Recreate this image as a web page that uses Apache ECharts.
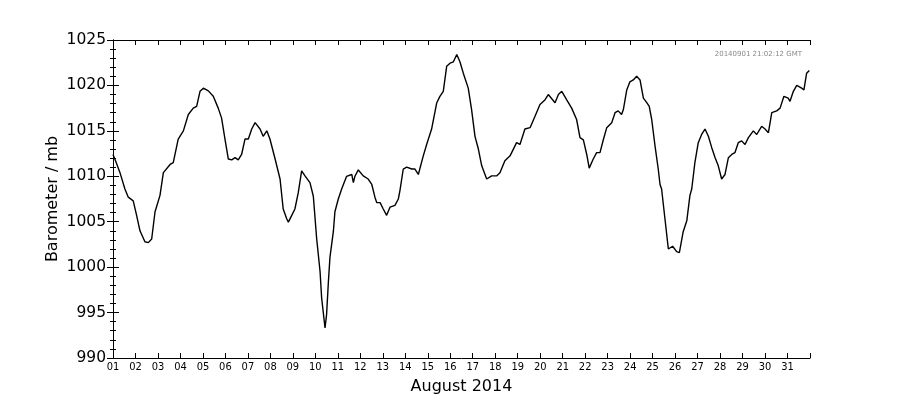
<!DOCTYPE html>
<html>
<head>
<meta charset="utf-8">
<title>Barometer August 2014</title>
<script src="https://cdn.jsdelivr.net/npm/echarts@6/dist/echarts.min.js"></script>
<style>
  html, body { margin: 0; padding: 0; background: #fff; }
  #chart { width: 900px; height: 400px; }
</style>
</head>
<body>
<div id="chart"></div>
<script>
// time in days since 1 Aug 2014 00:00
const days = [
  0.00, 0.13, 0.31, 0.53, 0.68, 0.90, 1.05, 1.20, 1.42, 1.57, 1.72, 1.87,
  2.09, 2.24, 2.54, 2.68, 2.90, 3.13, 3.35, 3.57, 3.72, 3.87, 4.02, 4.24,
  4.46, 4.68, 4.83, 4.98, 5.13, 5.28, 5.43, 5.57, 5.72, 5.87, 6.02, 6.17,
  6.32, 6.54, 6.68, 6.84, 6.98, 7.21, 7.43, 7.57, 7.73, 7.80, 7.95, 8.09,
  8.24, 8.39, 8.54, 8.76, 8.91, 9.06, 9.21, 9.28, 9.38, 9.43, 9.50, 9.58,
  9.65, 9.80, 9.87, 10.02, 10.17, 10.39, 10.62, 10.69, 10.76, 10.91, 11.13, 11.35,
  11.51, 11.65, 11.73, 11.88, 12.02, 12.17, 12.32, 12.54, 12.69, 12.76, 12.91, 13.06,
  13.29, 13.43, 13.58, 13.66, 13.80, 13.95, 14.17, 14.40, 14.54, 14.69, 14.84, 14.99,
  15.14, 15.29, 15.43, 15.58, 15.80, 15.95, 16.10, 16.25, 16.40, 16.62, 16.84, 17.07,
  17.21, 17.43, 17.66, 17.95, 18.10, 18.32, 18.55, 18.77, 18.99, 19.21, 19.36, 19.66,
  19.81, 19.96, 20.18, 20.40, 20.62, 20.77, 20.92, 21.07, 21.18, 21.36, 21.51, 21.66,
  21.81, 21.96, 22.18, 22.33, 22.47, 22.62, 22.70, 22.85, 22.99, 23.14, 23.29, 23.44,
  23.59, 23.74, 23.85, 23.96, 24.11, 24.25, 24.33, 24.40, 24.55, 24.70, 24.89, 25.07,
  25.19, 25.36, 25.52, 25.66, 25.74, 25.88, 26.03, 26.18, 26.33, 26.48, 26.63, 26.78,
  26.92, 27.07, 27.22, 27.37, 27.52, 27.66, 27.81, 27.96, 28.11, 28.26, 28.48, 28.63,
  28.85, 29.00, 29.15, 29.30, 29.52, 29.67, 29.84, 30.03, 30.11, 30.26, 30.41, 30.63,
  30.73, 30.85, 30.97
];

// pressure in mb
const pressure = [
  1012.4, 1011.6, 1010.4, 1008.6, 1007.7, 1007.3, 1005.7, 1004.0, 1002.8, 1002.7, 1003.1, 1006.1,
  1007.9, 1010.4, 1011.3, 1011.5, 1014.1, 1015.0, 1016.8, 1017.5, 1017.7, 1019.35, 1019.7, 1019.4,
  1018.8, 1017.5, 1016.4, 1014.1, 1011.9, 1011.8, 1012.05, 1011.8, 1012.4, 1014.1, 1014.1, 1015.2,
  1015.9, 1015.2, 1014.4, 1015.0, 1014.1, 1011.9, 1009.7, 1006.4, 1005.3, 1004.95, 1005.7, 1006.4,
  1008.2, 1010.6, 1010.05, 1009.3, 1007.8, 1003.1, 999.5, 996.6, 994.4, 993.3, 994.8, 998.4,
  1001.1, 1003.9, 1006.1, 1007.5, 1008.6, 1010.0, 1010.2, 1009.3, 1010.0, 1010.7, 1010.05, 1009.7,
  1009.1, 1007.7, 1007.1, 1007.1, 1006.4, 1005.7, 1006.6, 1006.8, 1007.5, 1008.4, 1010.8, 1011.0,
  1010.8, 1010.8, 1010.2, 1010.05, 1012.25, 1013.5, 1015.2, 1018.1, 1018.8, 1019.35, 1022.1, 1022.45,
  1022.6, 1023.4, 1022.6, 1021.35, 1019.7, 1017.3, 1014.4, 1013.0, 1011.15, 1009.7, 1010.05, 1010.05,
  1010.4, 1011.7, 1012.25, 1013.7, 1013.5, 1015.2, 1015.35, 1016.6, 1017.9, 1018.4, 1019.0, 1018.1,
  1019.0, 1019.35, 1018.4, 1017.5, 1016.25, 1014.25, 1014.0, 1012.4, 1010.9, 1011.9, 1012.6, 1012.6,
  1014.05, 1015.35, 1015.9, 1017.0, 1017.2, 1016.8, 1017.35, 1019.5, 1020.4, 1020.6, 1021.0, 1020.6,
  1018.6, 1018.1, 1017.7, 1016.25, 1013.3, 1010.8, 1009.1, 1008.6, 1005.3, 1002.0, 1002.3, 1001.7,
  1001.6, 1003.9, 1005.1, 1007.9, 1008.6, 1011.5, 1013.7, 1014.6, 1015.2, 1014.4, 1013.15, 1012.05,
  1011.15, 1009.7, 1010.2, 1012.05, 1012.4, 1012.6, 1013.7, 1013.9, 1013.5, 1014.25, 1015.0, 1014.6,
  1015.5, 1015.2, 1014.8, 1017.0, 1017.2, 1017.5, 1018.8, 1018.6, 1018.25, 1019.35, 1020.0, 1019.7,
  1019.5, 1021.35, 1021.65
];

const yMin = 990;
const yMax = 1025;
const yStep = 5;
const dayCount = 31;
const stamp = "20140901 21:02:12 GMT";

const font = "DejaVu Sans";
const narrowFont = "'Liberation Sans Narrow', 'DejaVu Sans Condensed', sans-serif";

const chartDom = document.getElementById("chart");
const chartInstance = echarts.init(chartDom, null, { renderer: "canvas" });

const axisLine = { show: true, lineStyle: { color: "#000", width: 1 } };
const dayLabel = (v) => (v >= dayCount ? "" : String(v + 1).padStart(2, "0"));
const tick = { show: true, inside: true, length: 6, lineStyle: { color: "#000" } };
const minor = { show: true, inside: true, splitNumber: 5, length: 3, lineStyle: { color: "#000" } };

const option = {
  animation: false,
  backgroundColor: "#fff",
  grid: { left: 113, right: 90, top: 40, bottom: 40 },
  graphic: [
    {
      type: "text",
      right: 98,
      top: 51,
      style: { text: stamp, fill: "#888", font: `7px "${font}"` },
    },
  ],
  xAxis: [
    {
      type: "value",
      min: 0,
      max: dayCount,
      interval: 1,
      position: "bottom",
      name: "August 2014",
      nameLocation: "middle",
      nameGap: 21,
      nameMoveOverlap: false,
      nameTextStyle: { fontFamily: font, fontSize: 16, color: "#000" },
      axisLine,
      axisTick: { ...tick, length: 5 },
      axisLabel: { formatter: dayLabel, fontFamily: narrowFont, fontSize: 11, color: "#000", margin: 4 },
      splitLine: { show: false },
    },
    {
      type: "value",
      min: 0,
      max: dayCount,
      interval: 1,
      position: "top",
      axisLine,
      axisTick: { ...tick, length: 5 },
      axisLabel: { show: false },
      splitLine: { show: false },
    },
  ],
  yAxis: [
    {
      type: "value",
      min: yMin,
      max: yMax,
      interval: yStep,
      position: "left",
      name: "Barometer / mb",
      nameLocation: "middle",
      nameGap: 52,
      nameMoveOverlap: false,
      nameTextStyle: { fontFamily: font, fontSize: 16, color: "#000" },
      axisLine,
      axisTick: tick,
      minorTick: minor,
      axisLabel: { formatter: (v) => String(v), fontFamily: font, fontSize: 15.5, color: "#000", margin: 7 },
      splitLine: { show: false },
    },
    {
      type: "value",
      min: yMin,
      max: yMax,
      interval: yStep,
      position: "right",
      axisLine,
      axisTick: tick,
      minorTick: minor,
      axisLabel: { show: false },
      splitLine: { show: false },
    },
  ],
  series: [
    {
      type: "line",
      name: "Barometer",
      data: days.map((d, i) => [d, pressure[i]]),
      showSymbol: false,
      smooth: false,
      lineStyle: { color: "#000", width: 1.4 },
    },
  ],
};

chartInstance.setOption(option);
</script>
</body>
</html>
